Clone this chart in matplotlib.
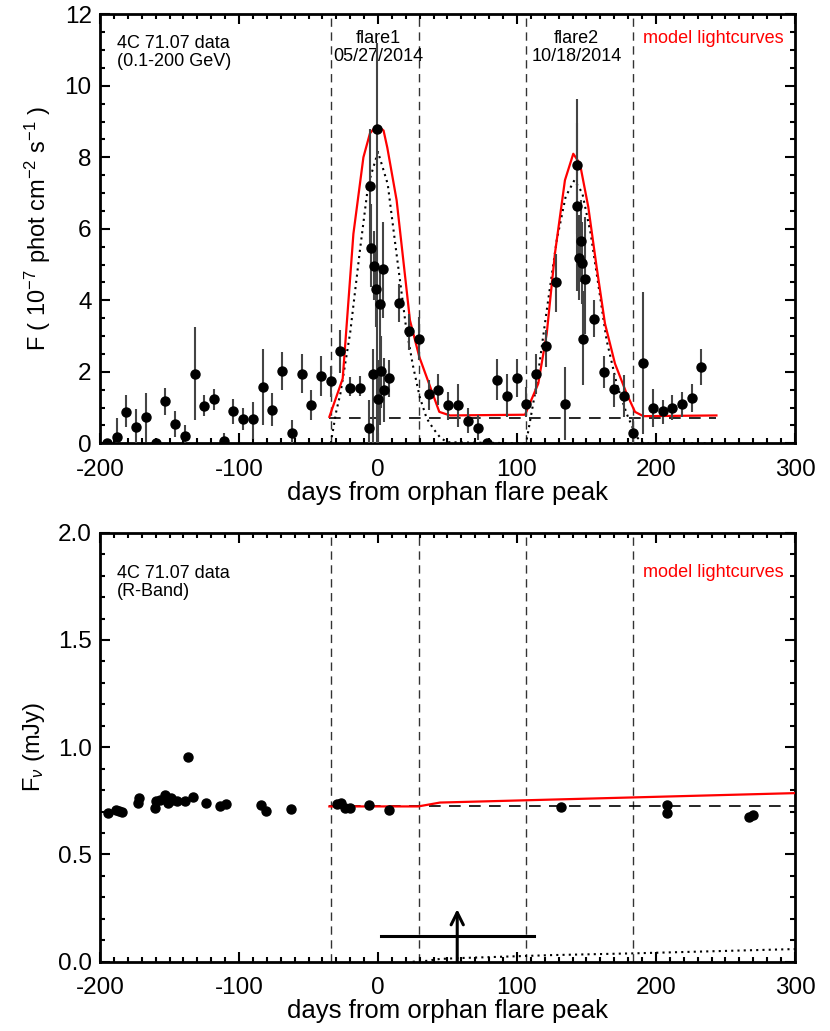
import numpy as np
import matplotlib
matplotlib.use('Agg')
import matplotlib.pyplot as plt
from matplotlib.ticker import MultipleLocator, FormatStrFormatter

plt.rcParams['font.family'] = ['Liberation Sans', 'DejaVu Sans']
plt.rcParams['mathtext.fontset'] = 'custom'
plt.rcParams['mathtext.rm'] = 'Liberation Sans'
plt.rcParams['mathtext.it'] = 'Liberation Sans:italic'
plt.rcParams['axes.unicode_minus'] = False

# ---- gamma-ray (top panel) data: day, flux, lower, upper ----
g_day = [-195, -188, -181, -174, -167, -160, -153, -146, -139, -132, -125, -118,
         -111, -104, -97, -90, -83, -76, -69, -62, -55, -48, -41, -34, -27, -20,
         -13, -6.5, -5.8, -5.0, -3.8, -2.9, -1.7, -0.7, 0.2, 1.2, 2.2, 3.4, 4.6,
         8.2, 15.1, 22.1, 29.3, 36.5, 43.4, 50.6, 57.5, 64.5, 71.7, 78.6, 85.4,
         92.6, 99.8, 106.7, 113.7, 120.9, 127.8, 134.8, 143.0, 143.4, 144.6,
         145.8, 146.8, 147.7, 148.9, 155.6, 162.8, 169.8, 176.8, 183.7, 190.9,
         197.8, 204.8, 211.7, 218.7, 225.7, 232.6]
g_flux = [0.0, 0.18, 0.88, 0.46, 0.74, 0.0, 1.18, 0.55, 0.21, 1.95, 1.04, 1.23,
          0.06, 0.9, 0.69, 0.67, 1.58, 0.94, 2.01, 0.3, 1.95, 1.08, 1.88, 1.73,
          2.58, 1.56, 1.56, 0.43, 7.2, 5.47, 1.95, 4.97, 4.33, 8.78, 1.25, 3.89,
          2.02, 4.88, 1.48, 1.83, 3.92, 3.14, 2.93, 1.37, 1.5, 1.06, 1.06, 0.62,
          0.43, 0.0, 1.78, 1.31, 1.83, 1.11, 1.93, 2.72, 4.51, 1.11, 6.63, 7.78,
          5.18, 5.65, 5.05, 2.93, 4.61, 3.49, 1.99, 1.51, 1.32, 0.3, 2.25, 1.0,
          0.9, 1.0, 1.09, 1.28, 2.14]
g_lo = [0.0, 0.0, 0.46, 0.0, 0.05, 0.0, 0.78, 0.18, 0.0, 0.64, 0.76, 0.93,
        0.0, 0.55, 0.36, 0.11, 0.5, 0.48, 1.5, 0.0, 1.42, 0.66, 1.32, 1.3,
        1.97, 1.32, 1.32, 0.0, 5.5, 4.37, 0.0, 4.0, 3.26, 0.0, 0.0, 0.5,
        1.0, 3.5, 0.6, 1.3, 3.39, 2.6, 2.32, 0.92, 1.06, 0.64, 0.46, 0.28,
        0.08, 0.0, 1.2, 0.73, 1.29, 0.73, 1.39, 2.13, 3.67, 0.08, 4.27, 5.86,
        4.0, 4.5, 3.9, 1.62, 3.07, 2.97, 1.56, 1.02, 0.73, 0.0, 0.27, 0.47,
        0.55, 0.64, 0.75, 0.87, 1.62]
g_hi = [0.0, 0.7, 1.34, 0.95, 1.4, 0.0, 1.55, 0.9, 0.5, 3.25, 1.34, 1.52,
        0.3, 1.25, 1.0, 1.15, 2.65, 1.4, 2.55, 0.66, 2.5, 1.5, 2.44, 2.15,
        3.18, 1.85, 1.88, 1.2, 8.8, 6.7, 2.65, 5.95, 5.5, 11.2, 2.32, 4.9,
        3.0, 6.2, 2.4, 2.32, 4.46, 3.62, 3.53, 1.76, 1.95, 1.43, 1.67, 0.98,
        0.78, 0.0, 2.37, 1.95, 2.36, 1.57, 2.5, 3.16, 5.3, 2.13, 8.97, 9.64,
        6.4, 6.8, 6.2, 4.27, 6.33, 4.0, 2.43, 1.95, 1.9, 0.73, 4.23, 1.53,
        1.22, 1.34, 1.43, 1.67, 2.65]

# red model lightcurve (gamma)
gm_day = [-35, -25.4, -17.7, -10.5, -5.8, -0.7, 4.0, 6.7, 13.4, 20.1, 23, 29.7,
          44.1, 51.8, 105.8, 115.3, 121.4, 127.3, 134.5, 140.5, 145.3, 151.3,
          157.3, 163.3, 170.5, 178.9, 184.9, 190.9, 243.5]
gm_flux = [0.74, 1.81, 5.86, 8.0, 8.67, 8.9, 8.75, 8.27, 6.8, 4.46, 3.44, 2.42,
           0.88, 0.78, 0.8, 1.67, 3.07, 5.31, 7.36, 8.1, 7.82, 6.61, 4.93, 3.35,
           2.23, 1.39, 0.88, 0.76, 0.78]

# dotted component (gamma)
gd_day = [-34, -30, -27, -20, -13, -7, 0, 7, 13, 20, 25, 30, 35, 40, 45, 50,
          106, 107, 114.2, 121.4, 128.6, 135, 141.3, 147, 153, 157.7, 164.5,
          171.7, 178.9, 186, 191, 243]
gd_flux = [0.0, 0.9, 1.4, 3.1, 5.4, 7.25, 8.15, 7.25, 5.4, 3.3, 2.2, 1.3, 0.7,
           0.4, 0.15, 0.03, 0.0, 0.1, 1.67, 3.72, 5.68, 6.9, 7.36, 7.0, 5.87,
           4.65, 2.88, 1.67, 0.83, 0.18, 0.0, 0.0]

g_base = 0.72
base_range = [-35, 243]

# ---- optical R-band (bottom panel) ----
r_day = [-194.5, -188.5, -186, -184, -173, -172, -160.4, -160, -157, -153,
         -151, -149, -148, -144.4, -139, -136.5, -133, -123.5, -114, -109,
         -84.4, -80.8, -62.6, -29.7, -26.8, -23.7, -20, -6.2, 7.9, 132,
         207.7, 207.7, 267, 270]
r_flux = [0.692, 0.708, 0.703, 0.698, 0.738, 0.761, 0.716, 0.747, 0.754, 0.778,
          0.739, 0.762, 0.753, 0.750, 0.750, 0.953, 0.768, 0.742, 0.727, 0.734,
          0.730, 0.703, 0.711, 0.733, 0.742, 0.717, 0.717, 0.731, 0.708, 0.722,
          0.731, 0.692, 0.677, 0.683]

rm_day = [-35, 29, 44.6, 300]
rm_flux = [0.724, 0.724, 0.742, 0.786]
rd_day = [25, 35, 44.6, 59, 126, 183.7, 300]
rd_flux = [0.0, 0.004, 0.013, 0.017, 0.031, 0.039, 0.059]
r_base = 0.724
r_base_range = [-35, 300]

# limit: time range and arrow
lim_range = [1.9, 112]
lim_level = 0.12
arrow_day = 57
arrow_top = 0.245

flare_edges = [-33.8, 29.5, 106.5, 183.7]

fig = plt.figure(figsize=(8.3, 10.31), dpi=100)
ax1 = fig.add_axes([0.1205, 0.5700, 0.8373, 0.4161])
ax2 = fig.add_axes([0.1205, 0.0672, 0.8373, 0.4161])

for ax in (ax1, ax2):
    for x in flare_edges:
        ax.axvline(x, color='#333333', lw=1.0, ls=(0, (6, 4)), zorder=1)
    ax.set_xlim(-200, 300)
    ax.xaxis.set_major_locator(MultipleLocator(100))
    ax.xaxis.set_minor_locator(MultipleLocator(10))
    ax.tick_params(which='both', direction='in', top=True, right=True,
                   labelsize=17.5, width=1.5)
    ax.tick_params(which='major', length=7)
    ax.tick_params(axis='x', which='major', pad=11)
    ax.tick_params(axis='y', which='major', pad=6)
    ax.tick_params(which='minor', length=3.5)
    for s in ax.spines.values():
        s.set_linewidth(2)
    ax.set_xlabel('days from orphan flare peak', fontsize=18.5, labelpad=0)

# top panel
g_day = np.array(g_day)
g_flux = np.array(g_flux)
yerr = [g_flux - np.array(g_lo), np.array(g_hi) - g_flux]
ax1.errorbar(g_day, g_flux, yerr=yerr, fmt='o', color='black', ms=6.5,
             ecolor='#444444', elinewidth=1.5, capsize=0, zorder=4)
ax1.plot(gm_day, gm_flux, color='red', lw=1.6, zorder=3)
ax1.plot(gd_day, gd_flux, color='black', lw=1.5, ls=(0, (1, 2)), zorder=2)
ax1.plot(base_range, [g_base, g_base], color='black', lw=1.2, ls=(0, (7, 5)),
         zorder=2)
ax1.set_ylim(0, 12)
ax1.yaxis.set_major_locator(MultipleLocator(2))
ax1.yaxis.set_minor_locator(MultipleLocator(0.5))
ax1.set_ylabel(r'F ( 10$^{-7}$ phot cm$^{-2}$ s$^{-1}$ )', fontsize=17,
               labelpad=8)

ax1.text(0.024, 0.952, '4C 71.07 data\n(0.1-200 GeV)', transform=ax1.transAxes,
         fontsize=13, va='top', ha='left', linespacing=1.05)
ax1.text(0, 11.55, 'flare1\n05/27/2014', fontsize=13, va='top', ha='center',
         linespacing=1.05)
ax1.text(143, 11.55, 'flare2\n10/18/2014', fontsize=13, va='top', ha='center',
         linespacing=1.05)
ax1.text(191, 11.55, 'model lightcurves', fontsize=13, va='top', ha='left',
         color='red')

# bottom panel
ax2.plot(r_day, r_flux, 'o', color='black', ms=6.5, zorder=4)
ax2.plot(rm_day, rm_flux, color='red', lw=1.6, zorder=3)
ax2.plot(r_base_range, [r_base, r_base], color='black', lw=1.2,
         ls=(0, (7, 5)), zorder=2)
ax2.plot(rd_day, rd_flux, color='black', lw=1.5, ls=(0, (1, 2)), zorder=2)
ax2.plot(lim_range, [lim_level, lim_level], color='black', lw=2.2, zorder=4)
ax2.annotate('', xy=(arrow_day, arrow_top), xytext=(arrow_day, 0),
             arrowprops=dict(arrowstyle='->', lw=2.2, color='black',
                             mutation_scale=22, shrinkA=0, shrinkB=0),
             zorder=4)
ax2.set_ylim(0, 2.0)
ax2.yaxis.set_major_locator(MultipleLocator(0.5))
ax2.yaxis.set_minor_locator(MultipleLocator(0.1))
ax2.yaxis.set_major_formatter(FormatStrFormatter('%.1f'))
ax2.set_ylabel(r'F$_\nu$ (mJy)', fontsize=17, labelpad=8)

ax2.text(0.024, 0.925, '4C 71.07 data\n(R-Band)', transform=ax2.transAxes,
         fontsize=13, va='top', ha='left', linespacing=1.05)
ax2.text(191, 1.855, 'model lightcurves', fontsize=13, va='top', ha='left',
         color='red')

fig.savefig('out.png', dpi=100)
